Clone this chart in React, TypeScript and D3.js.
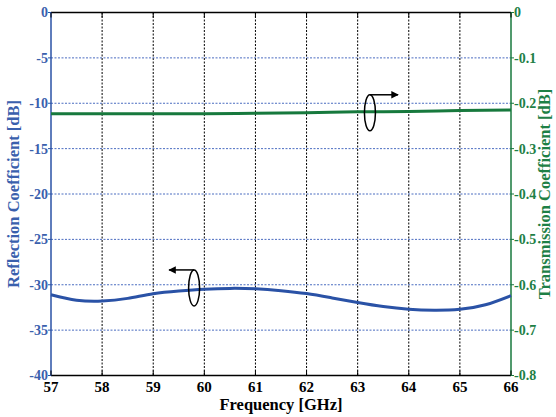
import React from 'react';
import * as d3 from 'd3';

const width = 556;
const height = 417;
const margin = { top: 12.5, right: 45, bottom: 41.5, left: 51 };

// reflection coefficient (dB)
const freqS11 = [57, 57.5, 58, 58.5, 59, 59.5, 60, 60.5, 61, 61.5, 62, 62.5, 63, 63.5, 64, 64.5, 65, 65.5, 66];
const s11 = [-31.1, -31.7, -31.8, -31.5, -31.0, -30.7, -30.5, -30.4, -30.45, -30.65, -30.97, -31.45, -31.95, -32.4, -32.7, -32.8, -32.7, -32.2, -31.2];

// transmission coefficient (dB)
const freqS21 = [57, 58, 59, 60, 61, 62, 63, 64, 65, 66];
const s21 = [-0.223, -0.223, -0.223, -0.223, -0.222, -0.221, -0.219, -0.218, -0.216, -0.215];

const xTicks = [57, 58, 59, 60, 61, 62, 63, 64, 65, 66];
const leftTicks = [0, -5, -10, -15, -20, -25, -30, -35, -40];
const rightTicks = [0, -0.1, -0.2, -0.3, -0.4, -0.5, -0.6, -0.7, -0.8];

const blue = '#2a52a6';
const blueText = '#3a60ad';
const green = '#17793d';
const greenText = '#1e8046';
const font = "'Liberation Serif', 'Times New Roman', 'DejaVu Serif', serif";

export default function App() {
  const x = d3.scaleLinear().domain([57, 66]).range([margin.left, width - margin.right]);
  const yL = d3.scaleLinear().domain([-40, 0]).range([height - margin.bottom, margin.top]);
  const yR = d3.scaleLinear().domain([-0.8, 0]).range([height - margin.bottom, margin.top]);

  const lineL = d3.line<number>().x((d, i) => x(freqS11[i])).y(d => yL(d)).curve(d3.curveNatural);
  const lineR = d3.line<number>().x((d, i) => x(freqS21[i])).y(d => yR(d)).curve(d3.curveNatural);

  const x0 = x(57), x1 = x(66), y0 = yL(0), y1 = yL(-40);

  // annotation ellipses with arrows pointing at their axis
  const notes = [
    { f: 63.24, v: -11.05, tip: 63.79 },
    { f: 59.8, v: -30.35, tip: 59.31 },
  ];

  return (
    <svg width={width} height={height} style={{ position: 'fixed', left: 0, top: 0, background: '#fff' }}>
      <style>{`text { font-family: ${font}; font-weight: bold; }`}</style>
      <defs>
        <marker id="arr" viewBox="0 0 10 10" refX="9" refY="5" markerWidth="5" markerHeight="5" orient="auto-start-reverse">
          <path d="M0,0 L10,5 L0,10 z" fill="#000" />
        </marker>
      </defs>

      {/* grid */}
      {xTicks.slice(1, -1).map(t => (
        <line key={'vx' + t} x1={x(t)} x2={x(t)} y1={y0} y2={y1} stroke="#000" strokeWidth={1} strokeDasharray="2,1.5" />
      ))}
      {leftTicks.slice(1, -1).map(t => (
        <line key={'hy' + t} x1={x0} x2={x1} y1={yL(t)} y2={yL(t)} stroke="#4a6cc0" strokeWidth={1} strokeDasharray="2,1.5" />
      ))}

      {/* frame */}
      <line x1={x0} x2={x1} y1={y0} y2={y0} stroke="#000" strokeWidth={1.5} />
      <line x1={x0} x2={x1} y1={y1} y2={y1} stroke="#000" strokeWidth={1.5} />
      <line x1={x0} x2={x0} y1={y0} y2={y1} stroke={blue} strokeWidth={1.5} />
      <line x1={x1} x2={x1} y1={y0} y2={y1} stroke={green} strokeWidth={1.5} />

      {/* x ticks */}
      {xTicks.map(t => (
        <g key={'xt' + t}>
          <line x1={x(t)} x2={x(t)} y1={y1} y2={y1 - 5} stroke="#000" strokeWidth={1} />
          <line x1={x(t)} x2={x(t)} y1={y0} y2={y0 + 5} stroke="#000" strokeWidth={1} />
          <text x={x(t)} y={y1 + 16} textAnchor="middle" fontSize={15} fill="#000">{t}</text>
        </g>
      ))}

      {/* left ticks */}
      {leftTicks.map(t => (
        <g key={'lt' + t}>
          <line x1={x0 - 3} x2={x0} y1={yL(t)} y2={yL(t)} stroke={blue} strokeWidth={1} />
          <text x={x0 - 3} y={yL(t)} dy="0.35em" textAnchor="end" fontSize={14} fill={blueText}>{t}</text>
        </g>
      ))}

      {/* right ticks */}
      {rightTicks.map(t => (
        <g key={'rt' + t}>
          <line x1={x1} x2={x1 + 3} y1={yR(t)} y2={yR(t)} stroke={green} strokeWidth={1} />
          <text x={x1 + 3} y={yR(t)} dy="0.35em" textAnchor="start" fontSize={14} fill={greenText}>{t === 0 ? '0' : t.toFixed(1)}</text>
        </g>
      ))}

      {/* series */}
      <path d={lineR(s21) || ''} fill="none" stroke={green} strokeWidth={3} />
      <path d={lineL(s11) || ''} fill="none" stroke={blue} strokeWidth={3} />

      {/* annotations */}
      {notes.map((n, i) => {
        const cx = x(n.f), cy = yL(n.v);
        return (
          <g key={'n' + i}>
            <ellipse cx={cx} cy={cy} rx={5.5} ry={18} fill="none" stroke="#000" strokeWidth={1.5} />
            <line x1={cx} x2={x(n.tip)} y1={cy - 18} y2={cy - 18} stroke="#000" strokeWidth={1.5} markerEnd="url(#arr)" />
          </g>
        );
      })}

      {/* axis titles */}
      <text x={(x0 + x1) / 2} y={410} textAnchor="middle" fontSize={16.5} fill="#000">Frequency [GHz]</text>
      <text transform={`translate(19,${(y0 + y1) / 2}) rotate(-90)`} textAnchor="middle" fontSize={16.5} fill={blueText}>Reflection Coefficient [dB]</text>
      <text transform={`translate(550,${(y0 + y1) / 2}) rotate(-90)`} textAnchor="middle" fontSize={16.5} fill={greenText}>Transmission Coefficient [dB]</text>
    </svg>
  );
}
